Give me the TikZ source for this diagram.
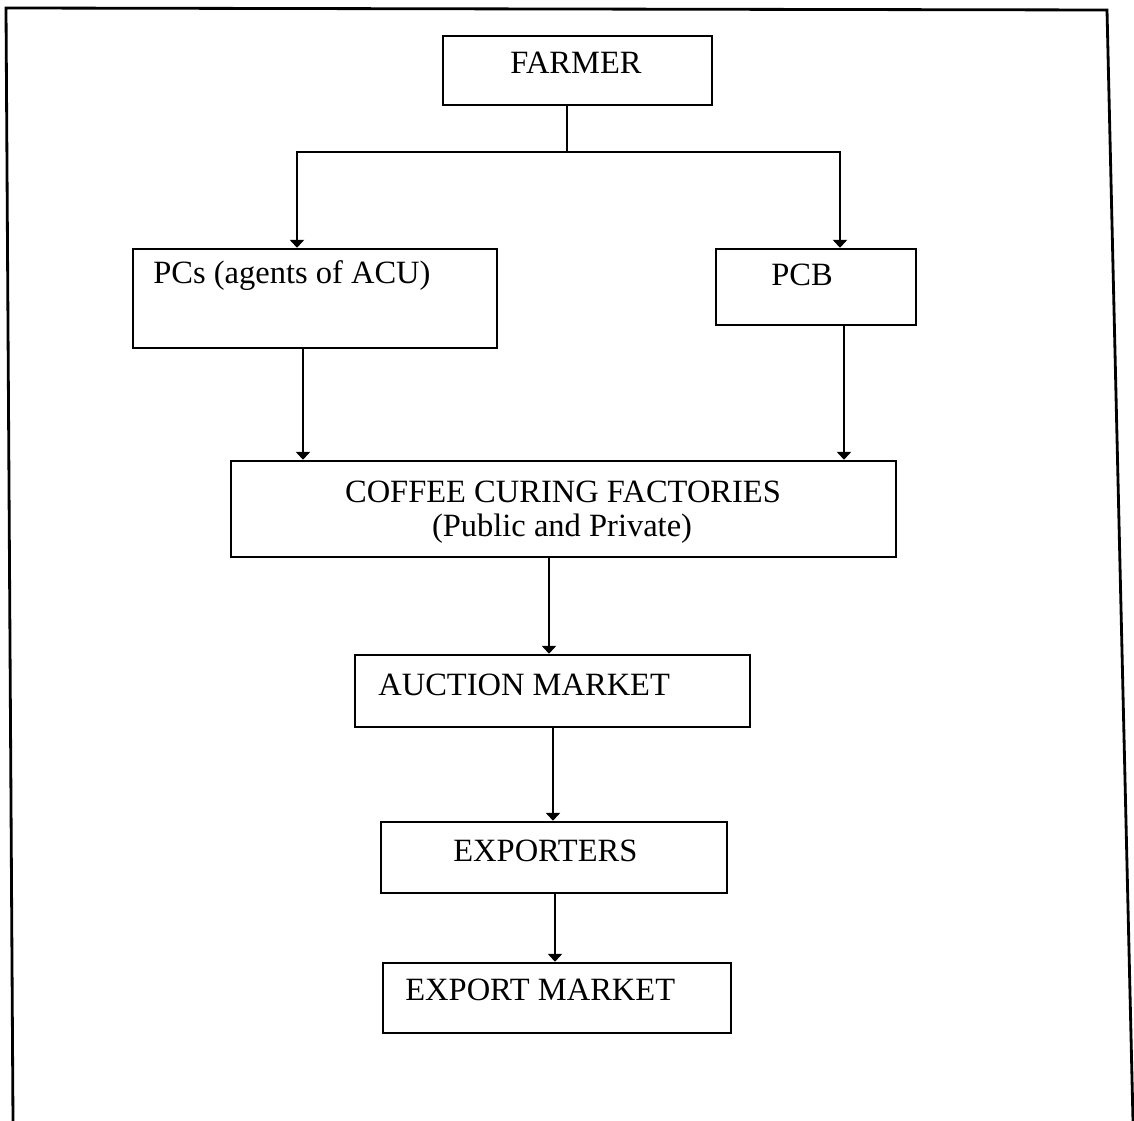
\documentclass[tikz,border=0pt]{standalone}
\usepackage{fontspec}
\setmainfont{Liberation Serif}
\usetikzlibrary{arrows.meta}
\begin{document}
\begin{tikzpicture}[x=0.02cm,y=-0.02cm,
  box/.style n args={2}{draw, line width=1.4pt, minimum width=#1*0.02cm, minimum height=#2*0.02cm, inner sep=0pt},
  lbl/.style={anchor=base west, inner sep=0pt, font=\fontsize{18.5}{22}\selectfont},
  clbl/.style={anchor=base, inner sep=0pt, font=\fontsize{18.5}{22}\selectfont},
  conn/.style={line width=1.2pt},
  arr/.style={line width=1.2pt, -{Triangle[width=8pt,length=4.5pt]}}]
\useasboundingbox (0,0) rectangle (1134,1121);
% frame
\draw[line width=1.6pt] (13,1121) -- (6,8) -- (1107,10) -- (1133,1121);
% boxes
\node[box={269}{69}] (farmer) at (577.5,70.5) {};
\node[box={364}{99}] (pcs) at (315,298.5) {};
\node[box={200}{76}] (pcb) at (816,287) {};
\node[box={665}{96}] (coffee) at (563.5,509) {};
\node[box={395}{72}] (auction) at (552.5,691) {};
\node[box={346}{71}] (exporters) at (554,857.5) {};
\node[box={348}{70}] (export) at (557,998) {};
% labels
\node[lbl] (tfarmer) at (510,74) {FARMER};
\node[lbl] (tpcs) at (153,284) {PCs (agents of ACU)};
\node[lbl] (tpcb) at (771,286) {PCB};
\node[clbl] (tcoffee1) at (563,503) {COFFEE CURING FACTORIES};
\node[clbl] (tcoffee2) at (562,537) {(Public and Private)};
\node[lbl] (tauction) at (378,696) {AUCTION MARKET};
\node[lbl] (texporters) at (453,862) {EXPORTERS};
\node[lbl] (texport) at (405,1001) {EXPORT MARKET};
% connectors
\coordinate (j) at (567,152);
\draw[conn] (567,0 |- farmer.south) -- (j);
\draw[arr] (j) -| (297,0 |- pcs.north);
\draw[arr] (j) -| (840,0 |- pcb.north);
\draw[arr] (303,0 |- pcs.south) -- (303,0 |- coffee.north);
\draw[arr] (844,0 |- pcb.south) -- (844,0 |- coffee.north);
\draw[arr] (549,0 |- coffee.south) -- (549,0 |- auction.north);
\draw[arr] (553,0 |- auction.south) -- (553,0 |- exporters.north);
\draw[arr] (555,0 |- exporters.south) -- (555,0 |- export.north);
\end{tikzpicture}
\end{document}
